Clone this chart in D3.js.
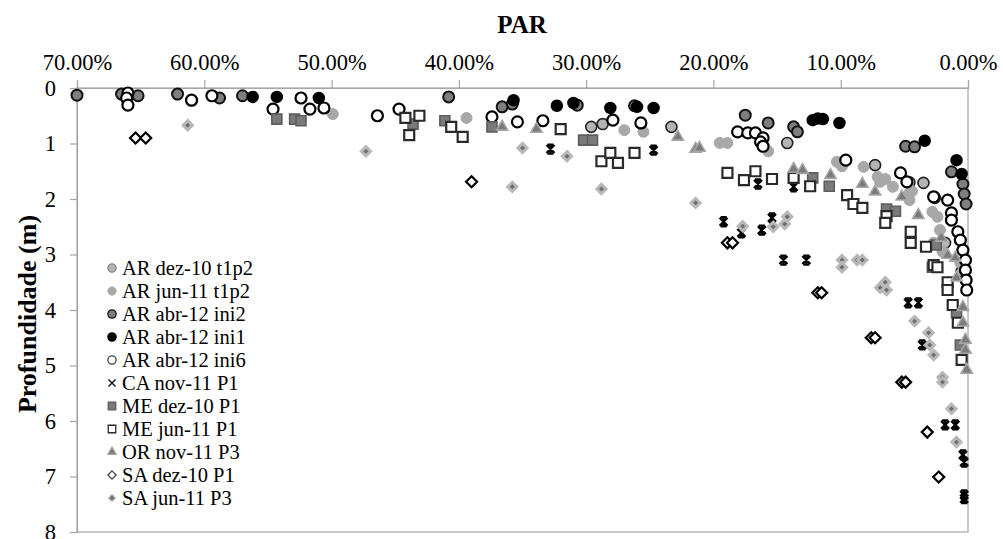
<!DOCTYPE html>
<html>
<head>
<meta charset="utf-8">
<script src="https://cdn.jsdelivr.net/npm/d3@7"></script>
<style>
  body { margin: 0; background: #fff; }
  svg { display: block; font-family: "Liberation Serif", "Times New Roman", serif; }
</style>
</head>
<body>
<div id="chart"></div>
<script>
// PAR (%) vs depth (m)
const arDez10 = [[29.6,0.70],[28.7,0.65],[23.3,0.70],[14.2,0.99],[7.3,1.39],[3.5,1.71],[4.6,1.70],[2.6,1.98],[1.8,2.79],[0.5,3.30]];
const arJun11 = [[49.9,0.47],[39.4,0.54],[27.0,0.76],[25.5,0.79],[19.5,0.99],[18.9,0.99],[15.7,1.14],[10.3,1.33],[9.9,1.41],
  [8.2,1.42],[7.1,1.60],[6.5,1.64],[5.9,1.78],[4.4,1.86],[6.9,1.69],[4.6,1.89],[4.6,2.02],[2.8,2.23],[2.4,2.32],[2.2,2.56],
  [2.7,2.79],[2.0,2.95],[0.6,3.15],[0.1,3.46]];
const arAbrIni2 = [[70.0,0.13],[66.5,0.11],[65.2,0.14],[62.1,0.11],[58.8,0.18],[57.0,0.14],[40.8,0.16],[36.6,0.34],[35.8,0.29],
  [30.7,0.31],[26.2,0.32],[17.5,0.49],[15.7,0.63],[13.7,0.70],[13.4,0.79],[4.9,1.05],[4.2,1.06],[1.3,1.51],[0.4,1.73],
  [0.3,1.91],[0.15,2.09]];
const arAbrIni1 = [[56.2,0.16],[54.3,0.16],[51.0,0.18],[35.7,0.22],[32.3,0.32],[31.0,0.27],[28.1,0.36],[26.0,0.34],[24.7,0.36],
  [12.2,0.58],[11.8,0.55],[11.4,0.56],[10.1,0.63],[3.4,0.95],[0.9,1.30],[0.5,1.55]];
const arAbrIni6 = [[66.0,0.09],[66.1,0.18],[66.0,0.31],[61.0,0.22],[59.4,0.14],[54.6,0.38],[52.4,0.18],[51.7,0.38],[50.6,0.36],
  [46.4,0.50],[44.7,0.38],[37.4,0.52],[35.4,0.61],[33.4,0.59],[27.9,0.58],[25.7,0.63],[18.1,0.79],[17.3,0.81],[16.7,0.81],
  [16.1,0.90],[16.3,0.97],[16.1,1.05],[9.6,1.30],[5.3,1.53],[4.8,1.69],[2.7,1.96],[1.6,2.02],[1.3,2.25],[1.3,2.38],
  [0.8,2.59],[0.6,2.74],[0.4,2.92],[0.2,3.10],[0.2,3.28],[0.15,3.46],[0.1,3.64]];
const caNov11 = [[32.8,1.10],[24.7,1.12],[16.5,1.73],[13.7,1.78],[19.2,2.41],[17.8,2.61],[16.2,2.56],[15.4,2.34],[14.5,3.10],
  [12.7,3.10],[4.7,3.87],[3.9,3.87],[3.6,4.63],[1.8,6.07],[1.0,6.07],[0.4,6.61],[0.3,6.74],[0.3,7.33],[0.3,7.40]];
const meDez10 = [[54.3,0.56],[52.9,0.56],[52.4,0.59],[43.6,0.65],[41.1,0.59],[37.4,0.70],[30.2,0.94],[29.5,0.94],[12.2,1.62],
  [10.9,1.77],[6.4,2.18],[5.7,2.22],[2.5,2.83],[2.8,3.23],[0.9,4.05],[0.6,4.63]];
const meJun11 = [[44.2,0.54],[43.1,0.50],[43.9,0.85],[40.6,0.70],[39.7,0.88],[32.0,0.74],[28.8,1.32],[28.1,1.17],[27.5,1.35],
  [26.2,1.17],[18.9,1.53],[17.6,1.66],[16.7,1.50],[15.4,1.64],[13.7,1.62],[12.4,1.77],[9.5,1.93],[9.0,2.09],[8.3,2.16],
  [6.4,2.31],[6.5,2.43],[4.5,2.59],[4.5,2.79],[3.3,2.86],[2.7,3.19],[2.4,3.23],[1.6,3.50],[1.6,3.64],[1.2,3.91],[0.8,4.23],
  [0.5,4.90]];
const orNov11 = [[36.6,0.70],[33.9,0.74],[22.8,0.88],[21.4,1.10],[21.1,1.08],[13.7,1.46],[13.0,1.48],[10.8,1.57],[8.3,1.73],
  [7.3,1.87],[5.2,1.96],[3.9,2.29],[2.1,2.70],[1.6,3.01],[1.0,3.06],[0.9,3.42],[0.4,3.95],[0.4,4.23],[0.2,4.54],[0.2,4.72],
  [0.1,5.08]];
const saDez10 = [[65.4,0.90],[64.6,0.90],[39.0,1.69],[18.9,2.79],[18.5,2.79],[11.8,3.69],[11.5,3.69],[7.6,4.50],[7.3,4.50],
  [5.2,5.30],[4.9,5.30],[3.2,6.20],[2.3,7.01]];
const saJun11 = [[61.3,0.67],[47.3,1.14],[35.0,1.08],[31.5,1.23],[35.8,1.78],[28.8,1.82],[21.4,2.07],[17.7,2.49],[15.3,2.50],
  [14.4,2.45],[14.2,2.32],[9.9,3.10],[9.9,3.23],[8.7,3.10],[8.3,3.10],[6.5,3.50],[6.9,3.60],[6.4,3.64],[4.2,4.20],[3.1,4.41],
  [3.0,4.63],[2.7,4.81],[2.0,5.21],[2.0,5.30],[1.3,5.78],[0.9,6.38]];

const seriesNames = ['AR dez-10 t1p2','AR jun-11 t1p2','AR abr-12 ini2','AR abr-12 ini1','AR abr-12 ini6','CA nov-11 P1',
  'ME dez-10 P1','ME jun-11 P1','OR nov-11 P3','SA dez-10 P1','SA jun-11 P3'];
const seriesData = [arDez10, arJun11, arAbrIni2, arAbrIni1, arAbrIni6, caNov11, meDez10, meJun11, orNov11, saDez10, saJun11];
const xTicks = [70, 60, 50, 40, 30, 20, 10, 0];
const yTicks = [0, 1, 2, 3, 4, 5, 6, 7, 8];

const starPath = 'M-4,-4L4,4M-4,4L4,-4M0,-4.5L0,4.5M-3,-4.5L3,-4.5M-3,4.5L3,4.5';
const styles = [
  { shape: 'circle', fill: '#b4b4b4', stroke: '#222', sw: 1.6 },
  { shape: 'circle', fill: '#a8a8a8', stroke: '#a8a8a8', sw: 1 },
  { shape: 'circle', fill: '#7f7f7f', stroke: '#111', sw: 2 },
  { shape: 'circle', fill: '#000', stroke: '#000', sw: 1.5 },
  { shape: 'circle', fill: '#fff', stroke: '#000', sw: 2.2 },
  { shape: 'star', fill: 'none', stroke: '#000', sw: 2.3 },
  { shape: 'square', fill: '#7a7a7a', stroke: '#5e5e5e', sw: 1.6 },
  { shape: 'square', fill: '#fff', stroke: '#2a2a2a', sw: 2.2 },
  { shape: 'triangle', fill: '#7a7a7a', stroke: '#a6a6a6', sw: 1.6 },
  { shape: 'diamond', fill: '#fff', stroke: '#000', sw: 2.2 },
  { shape: 'sdiamond', fill: '#6e6e6e', stroke: '#b8b8b8', sw: 3 }
];

const width = 1003, height = 539;
const plot = { left: 77, right: 968, top: 88, bottom: 532 };

const svg = d3.select('#chart').append('svg')
  .attr('width', width).attr('height', height);

const x = d3.scaleLinear().domain([70, 0]).range([plot.left, plot.right]);
const y = d3.scaleLinear().domain([0, 8]).range([plot.top, plot.bottom]);

// plot frame
svg.append('rect')
  .attr('x', plot.left).attr('y', plot.top)
  .attr('width', plot.right - plot.left).attr('height', plot.bottom - plot.top)
  .attr('fill', 'none').attr('stroke', '#a6a6a6').attr('stroke-width', 1.2);

const xAxis = svg.append('g')
  .attr('transform', `translate(0,${plot.top})`)
  .call(d3.axisTop(x).tickValues(xTicks).tickSize(8).tickPadding(10)
    .tickFormat(d => d3.format('.2f')(d) + '%'));
const yAxis = svg.append('g')
  .attr('transform', `translate(${plot.left},0)`)
  .call(d3.axisLeft(y).tickValues(yTicks).tickSize(7).tickPadding(14));

[xAxis, yAxis].forEach(ax => {
  ax.select('.domain').attr('stroke', '#a6a6a6').attr('stroke-width', 1.2);
  ax.selectAll('.tick line').attr('stroke', '#a6a6a6').attr('stroke-width', 1.2);
  ax.selectAll('.tick text').attr('fill', '#000')
    .attr('font-family', '"Liberation Serif", serif').attr('font-size', 22.5);
});

svg.append('text')
  .attr('x', 522).attr('y', 33)
  .attr('text-anchor', 'middle').attr('font-weight', 'bold').attr('font-size', 25)
  .text('PAR');

svg.append('text')
  .attr('transform', `translate(36,${(plot.top + plot.bottom) / 2 + 4}) rotate(-90)`)
  .attr('text-anchor', 'middle').attr('font-weight', 'bold').attr('font-size', 26)
  .text('Profundidade (m)');

function markerPath(shape, scale) {
  const k = scale || 1;
  if (shape === 'circle') return d3.symbol(d3.symbolCircle, 95 * k * k)();
  if (shape === 'square') return d3.symbol(d3.symbolSquare, 100 * k * k)();
  if (shape === 'triangle') return d3.symbol(d3.symbolTriangle, 55 * k * k)();
  if (shape === 'diamond' || shape === 'sdiamond') {
    const s = (shape === 'diamond' ? 5.5 : 4.6) * k;
    return `M0,${-s}L${s},0L0,${s}L${-s},0Z`;
  }
  return starPath;
}

seriesData.forEach((data, i) => {
  const st = styles[i];
  svg.append('g')
    .selectAll('path')
    .data(data)
    .enter()
    .append('path')
    .attr('transform', d => `translate(${x(d[0])},${y(d[1])})`)
    .attr('d', markerPath(st.shape))
    .attr('fill', st.fill)
    .attr('stroke', st.stroke)
    .attr('stroke-width', st.sw);
});

// legend
const legend = svg.append('g').attr('transform', 'translate(112,268)');
const items = legend.selectAll('.legend-item')
  .data(seriesNames)
  .enter()
  .append('g')
  .attr('transform', (d, i) => `translate(0,${i * 23})`);

items.append('path')
  .attr('d', (d, i) => i === 5 ? 'M-3.5,-3.5L3.5,3.5M-3.5,3.5L3.5,-3.5' : markerPath(styles[i].shape, 0.75))
  .attr('fill', (d, i) => styles[i].fill)
  .attr('stroke', (d, i) => i === 0 ? '#888' : (i === 4 || i === 9 ? '#444' : styles[i].stroke))
  .attr('stroke-width', (d, i) => Math.min(styles[i].sw, 1.3));

items.append('text')
  .attr('x', 10).attr('y', 7)
  .attr('font-size', 20.5)
  .text(d => d);
</script>
</body>
</html>
